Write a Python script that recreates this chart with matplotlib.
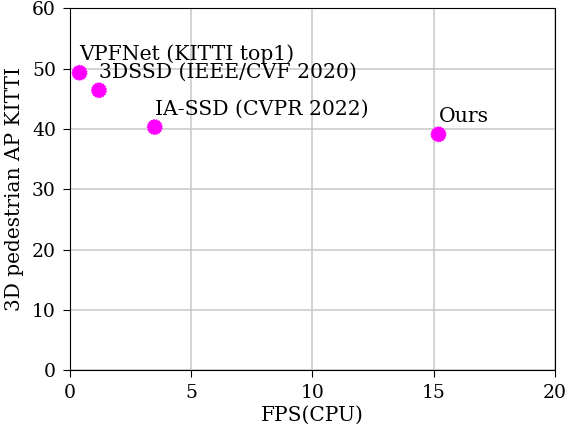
import matplotlib
matplotlib.use('Agg')
import matplotlib.pyplot as plt

plt.rcParams['font.family'] = 'DejaVu Serif'

names = ['VPFNet (KITTI top1)', '3DSSD (IEEE/CVF 2020)', 'IA-SSD (CVPR 2022)', 'Ours']
fps = [0.4, 1.2, 3.5, 15.2]
ap = [49.3, 46.4, 40.3, 39.1]

fig, ax = plt.subplots(figsize=(5.68, 4.32), dpi=100)
ax.scatter(fps, ap, s=130, c='magenta', edgecolors='white', linestyles=':', linewidths=0.8, zorder=3)
for n, x, y in zip(names, fps, ap):
    ax.annotate(n, (x, y), xytext=(0, 9), textcoords='offset points', fontsize=14.7)

ax.set_xlim(0, 20)
ax.set_ylim(0, 60)
ax.set_xticks([0, 5, 10, 15, 20])
ax.set_yticks(range(0, 61, 10))
ax.tick_params(labelsize=13.5, length=5, pad=5)
ax.grid(True, color='#c8c8c8', linewidth=1.1)
ax.set_axisbelow(True)
ax.set_xlabel('FPS(CPU)', fontsize=14.5, labelpad=3)
ax.set_ylabel('3D pedestrian AP KITTI', fontsize=14.5, labelpad=6)
fig.subplots_adjust(left=0.123, right=0.977, top=0.981, bottom=0.143)
fig.savefig('out.png')
